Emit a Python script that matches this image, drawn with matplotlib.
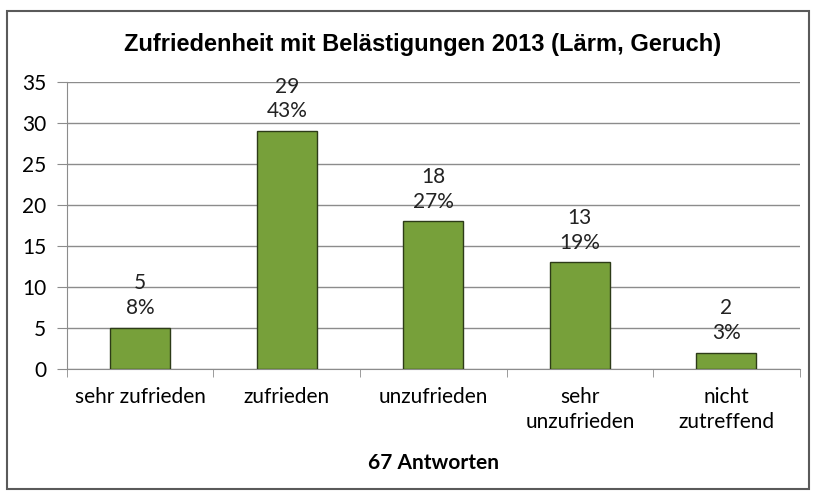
import matplotlib.pyplot as plt
from matplotlib.patches import Rectangle
import numpy as np

categories = ['sehr zufrieden', 'zufrieden', 'unzufrieden', 'sehr\nunzufrieden', 'nicht\nzutreffend']
counts = [5, 29, 18, 13, 2]
percents = ['8%', '43%', '27%', '19%', '3%']
yticks = [0, 5, 10, 15, 20, 25, 30, 35]

fig = plt.figure(figsize=(8.16, 4.97), dpi=100)
ax = fig.add_axes([0.082, 0.2575, 0.898, 0.5775])

# outer chart border
fig.patches.append(Rectangle((7 / 816, 1 - 489 / 497), 802 / 816, 478 / 497,
                             transform=fig.transFigure, fill=False,
                             edgecolor='#5a5a5a', linewidth=1.5))

x = np.arange(len(categories))
ax.bar(x, counts, width=0.41, color='#77a03a', edgecolor='#2d3b18', linewidth=1.0, zorder=3)

for xi, c, p in zip(x, counts, percents):
    ax.text(xi, c + 1.2, f'{c}\n{p}', ha='center', va='bottom', fontsize=15,
            family='Lato', color='#222222', linespacing=1.3, zorder=4)

ax.set_xlim(-0.5, len(categories) - 0.5)
ax.set_ylim(0, 35)
ax.set_yticks(yticks)
ax.yaxis.grid(True, color='#8c8c8c', linewidth=1.0, zorder=0)
ax.set_axisbelow(True)

ax.set_xticks(x)
ax.set_xticklabels(categories, family='Lato', fontsize=15, linespacing=1.3)
ax.set_xticks(np.arange(-0.5, len(categories)), minor=True)
ax.tick_params(axis='x', which='major', length=0, pad=13)
ax.tick_params(axis='x', which='minor', length=6, color='#8c8c8c')
ax.tick_params(axis='y', length=7, color='#8c8c8c', pad=8)
for lbl in ax.get_yticklabels():
    lbl.set_family('Lato')
    lbl.set_fontsize(15)

for side in ['top', 'right']:
    ax.spines[side].set_visible(False)
for side in ['left', 'bottom']:
    ax.spines[side].set_color('#8c8c8c')

fig.text(0.518, 1 - 45 / 497, 'Zufriedenheit mit Belästigungen 2013 (Lärm, Geruch)',
         ha='center', va='center', fontsize=17, fontweight='bold', family='Liberation Sans')
fig.text(0.531, 1 - 463 / 497, '67 Antworten', ha='center', va='center',
         fontsize=15, fontweight='bold', family='Lato')

fig.savefig('out.png', dpi=100)
